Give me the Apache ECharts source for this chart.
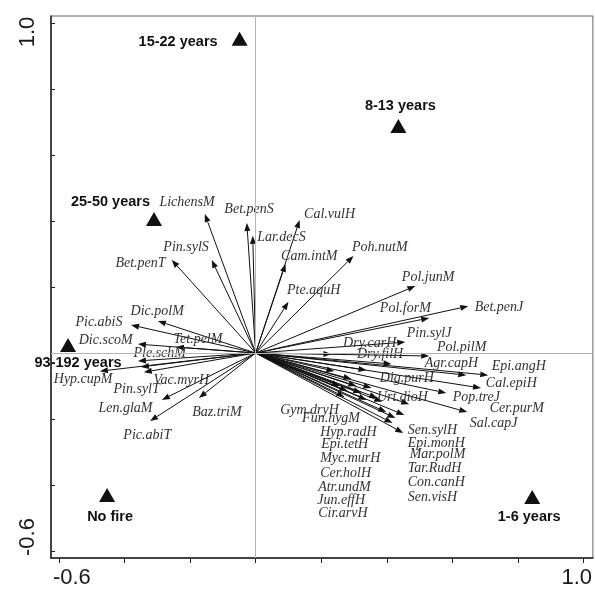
<!DOCTYPE html>
<html>
<head>
<meta charset="utf-8">
<script src="https://cdn.jsdelivr.net/npm/echarts@6/dist/echarts.min.js"></script>
<style>html,body{margin:0;padding:0;background:#fff;}#chart{width:595px;height:595px;}</style>
</head>
<body>
<div id="chart"></div>
<script>
// ---- data ----
const speciesNames = ["LichensM","Bet.penS","Lar.decS","Cal.vulH","Cam.intM","Pte.aquH","Poh.nutM","Pol.junM","Pol.forM","Bet.penJ",
  "Pin.sylJ","Pin.sylS","Bet.penT","Pic.abiS","Dic.polM","Tet.pelM","Dic.scoM","Ple.schM","Vac.myrH","Pin.sylT",
  "Hyp.cupM","Len.glaM","Baz.triM","Pic.abiT","Dry.carH","Pol.pilM","Dry.filH","Agr.capH","Epi.angH","Cal.epiH",
  "Dig.purH","Pop.treJ","Urt.dioH","Cer.purM","Sal.capJ","Sen.sylH","Epi.monH","Mar.polM","Tar.RudH","Con.canH",
  "Sen.visH","Gym.dryH","Fun.hygM","Hyp.radH","Epi.tetH","Myc.murH","Cer.holH","Atr.undM","Jun.effH","Cir.arvH"];
const arrowX = [-0.155,-0.027,-0.009,0.134,0.091,0.100,0.298,0.487,0.529,0.648,
  0.456,-0.134,-0.256,-0.380,-0.298,-0.243,-0.359,-0.359,-0.350,-0.341,
  -0.475,-0.286,-0.173,-0.322,0.231,0.529,0.414,0.642,0.709,0.687,
  0.338,0.581,0.353,0.645,0.453,0.450,0.417,0.398,0.338,0.386,
  0.322,0.240,0.292,0.280,0.271,0.256,0.307,0.371,0.426,0.468];
const arrowY = [0.421,0.394,0.355,0.403,0.270,0.155,0.294,0.203,0.106,0.142,
  0.033,0.282,0.282,0.085,0.097,0.018,0.027,-0.024,-0.042,-0.058,
  -0.055,-0.142,-0.136,-0.206,-0.003,-0.009,-0.033,-0.067,-0.067,-0.106,
  -0.052,-0.121,-0.106,-0.179,-0.188,-0.242,-0.212,-0.179,-0.142,-0.148,
  -0.121,-0.055,-0.079,-0.115,-0.133,-0.100,-0.100,-0.136,-0.197,-0.155];
const labelX = [-0.295,-0.097,0.003,0.146,0.076,0.094,0.292,0.444,0.377,0.666,
  0.459,-0.283,-0.429,-0.551,-0.383,-0.252,-0.541,-0.374,-0.313,-0.435,
  -0.617,-0.481,-0.195,-0.405,0.265,0.551,0.307,0.514,0.718,0.700,
  0.377,0.599,0.368,0.712,0.651,0.462,0.462,0.468,0.462,0.462,
  0.462,0.073,0.140,0.195,0.198,0.195,0.195,0.189,0.186,0.189];
const labelY = [0.458,0.436,0.352,0.421,0.294,0.191,0.321,0.230,0.136,0.139,
  0.061,0.321,0.273,0.094,0.127,0.042,0.039,0.000,-0.082,-0.109,
  -0.079,-0.167,-0.179,-0.248,0.030,0.018,-0.003,-0.030,-0.039,-0.091,
  -0.076,-0.133,-0.133,-0.167,-0.212,-0.233,-0.273,-0.306,-0.348,-0.391,
  -0.436,-0.173,-0.197,-0.239,-0.276,-0.318,-0.364,-0.406,-0.445,-0.485];
const siteNames = ["15-22 years","8-13 years","25-50 years","93-192 years","No fire","1-6 years"];
const siteX = [-0.049,0.435,-0.310,-0.572,-0.453,0.843];
const siteY = [0.952,0.688,0.406,0.024,-0.430,-0.436];
const xTicks = [-0.6,-0.4,-0.2,0,0.2,0.4,0.6,0.8,1.0];
const yTicks = [-0.6,-0.4,-0.2,0,0.2,0.4,0.6,0.8,1.0];
const xTickLabels = [-0.6,1.0];
const yTickLabels = [-0.6,1.0];

// ---- chart ----
const chart = echarts.init(document.getElementById('chart'), null, {renderer:'canvas'});
const siteLabelCfg = [
  {position:'left', distance:14, offset:[0,3]},
  {position:'top', distance:5, offset:[2,0]},
  {position:'left', distance:2, offset:[6,-17]},
  {position:'bottom', distance:3, offset:[10,0]},
  {position:'bottom', distance:8, offset:[3,0]},
  {position:'bottom', distance:6, offset:[-3,0]}
];
const option = {
  animation:false,
  grid:{left:51,right:2,top:16,bottom:37,containLabel:false,show:true,borderColor:'#666',borderWidth:1},
  xAxis:{type:'value',min:-0.624,max:1.028,
    axisLine:{show:true,onZero:false,lineStyle:{color:'#222',width:1.5}},
    axisTick:{show:true,inside:false,length:5,customValues:xTicks,lineStyle:{color:'#222'}},
    splitLine:{show:false},
    axisLabel:{show:true,customValues:xTickLabels,margin:9,fontFamily:'Liberation Sans',fontSize:22,color:'#1a1a1a',
      formatter:function(v){return v<0?'{a|-0.6}':'{b|1.0}';},
      rich:{a:{fontFamily:'Liberation Sans',fontSize:22,color:'#1a1a1a',padding:[0,0,0,26]},
            b:{fontFamily:'Liberation Sans',fontSize:22,color:'#1a1a1a',padding:[0,14,0,0]}}}
  },
  yAxis:{type:'value',min:-0.621,max:1.021,
    axisLine:{show:true,onZero:false,lineStyle:{color:'#222',width:1.5}},
    axisTick:{show:true,inside:true,length:4,customValues:yTicks,lineStyle:{color:'#222'}},
    splitLine:{show:false},
    axisLabel:{show:true,customValues:yTickLabels,margin:12,rotate:90,fontFamily:'Liberation Sans',fontSize:22,color:'#1a1a1a',
      formatter:function(v){return v<0?'{a|-0.6}':'{b|1.0}';},
      rich:{a:{fontFamily:'Liberation Sans',fontSize:22,color:'#1a1a1a',padding:[0,0,0,28]},
            b:{fontFamily:'Liberation Sans',fontSize:22,color:'#1a1a1a',padding:[0,18,0,0]}}}
  },
  series:[
    {
      type:'custom',
      name:'arrows',
      clip:false,
      encode:{x:0,y:1},
      data:arrowX.map((x,i)=>[x,arrowY[i]]),
      renderItem:function(params,api){
        const o = api.coord([0,0]);
        const t = api.coord([api.value(0),api.value(1)]);
        const dx=t[0]-o[0], dy=t[1]-o[1];
        const len=Math.sqrt(dx*dx+dy*dy)||1;
        const ux=dx/len, uy=dy/len;
        const hl=8, hw=3;
        const bx=t[0]-ux*hl, by=t[1]-uy*hl;
        const nx=-uy, ny=ux;
        return {type:'group',children:[
          {type:'line',shape:{x1:o[0],y1:o[1],x2:bx,y2:by},style:{stroke:'#111',lineWidth:1}},
          {type:'polygon',shape:{points:[[t[0],t[1]],[bx+nx*hw,by+ny*hw],[bx-nx*hw,by-ny*hw]]},style:{fill:'#111'}}
        ]};
      },
      markLine:{silent:true,symbol:['none','none'],label:{show:false},
        lineStyle:{color:'#b5b5b5',width:1,type:'solid'},
        data:[{xAxis:0},{yAxis:0}]},
      z:3
    },
    {
      type:'scatter',
      name:'species labels',
      symbolSize:1,
      itemStyle:{color:'rgba(255,255,255,0)',opacity:1},
      data:labelX.map((x,i)=>[x,labelY[i],speciesNames[i]]),
      label:{show:true,position:'right',distance:0,opacity:1,
        formatter:function(p){return p.value[2];},
        fontFamily:'Liberation Serif',fontStyle:'italic',fontSize:14,color:'#333'},
      z:4
    },
    {
      type:'scatter',
      name:'sites',
      symbol:'triangle',
      symbolSize:[16,14],
      itemStyle:{color:'#111',opacity:1},
      data:siteX.map((x,i)=>({value:[x,siteY[i]],name:siteNames[i],
        label:Object.assign({show:true,formatter:siteNames[i],fontFamily:'Liberation Sans',fontWeight:'bold',fontSize:14.5,color:'#111'},siteLabelCfg[i])})),
      z:5
    }
  ]
};
chart.setOption(option);
</script>
</body>
</html>
